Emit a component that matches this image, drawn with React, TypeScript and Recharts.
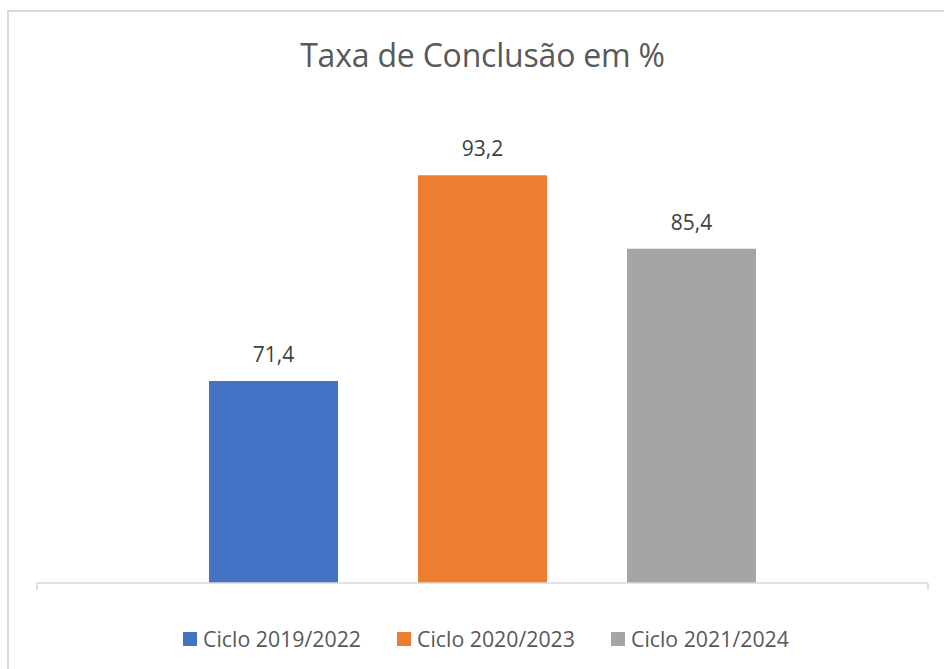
import { Bar, BarChart, LabelList, Legend, XAxis, YAxis } from "recharts";

const categories = ["Taxa de Conclusão"];
const seriesNames = ["Ciclo 2019/2022", "Ciclo 2020/2023", "Ciclo 2021/2024"];
const seriesValues = [71.4, 93.2, 85.4];
const seriesColors = ["#4472C4", "#ED7D31", "#A5A5A5"];
// the axis line runs from 0 to 1 with a small tick at each end
const edgeTicks = [0, 1];

const FONT = "'Open Sans', 'Noto Sans', sans-serif";

const chartData = categories.map((name) => {
  const row: Record<string, string | number> = { name, pos: 0.5 };
  seriesNames.forEach((s, i) => {
    row[s] = seriesValues[i];
  });
  return row;
});

function formatValue(value: unknown) {
  return String(value).replace(".", ",");
}

function LegendContent({ payload }: { payload?: any[] }) {
  return (
    <div style={{ display: "flex", justifyContent: "center", fontFamily: FONT }}>
      {(payload ?? []).map((entry, i) => (
        <div
          key={entry.value}
          style={{ display: "flex", alignItems: "center", marginLeft: i === 0 ? 0 : 36 }}
        >
          <span style={{ width: 14, height: 14, background: entry.color, marginRight: 6 }} />
          <span style={{ fontSize: 21.3, color: "#595959", lineHeight: "28px" }}>{entry.value}</span>
        </div>
      ))}
    </div>
  );
}

export default function App() {
  return (
    <div
      style={{
        position: "fixed",
        left: 0,
        top: 0,
        width: 944,
        height: 669,
        background: "#fff",
        overflow: "hidden",
      }}
    >
      <div
        style={{
          position: "absolute",
          left: 7,
          top: 10,
          width: 960,
          height: 700,
          borderLeft: "2px solid #D9D9D9",
          borderTop: "2px solid #D9D9D9",
        }}
      />
      <div
        style={{
          position: "absolute",
          left: 37,
          top: 33,
          width: 891,
          textAlign: "center",
          fontFamily: FONT,
          fontSize: 32,
          letterSpacing: -0.2,
          color: "#595959",
          lineHeight: "normal",
        }}
      >
        Taxa de Conclusão em %
      </div>
      <div style={{ position: "absolute", left: 0, top: 0 }}>
        <BarChart
          width={944}
          height={669}
          data={chartData}
          margin={{ top: 111, right: 16, bottom: 85, left: 37 }}
          barSize={129}
          barGap={80}
        >
          <XAxis dataKey="name" hide height={0} />
          <XAxis
            xAxisId="edge"
            type="number"
            dataKey="pos"
            domain={[0, 1]}
            ticks={edgeTicks}
            interval={0}
            tickFormatter={() => ""}
            tickSize={7}
            height={1}
            axisLine={{ stroke: "#D9D9D9", strokeWidth: 1.5 }}
            tickLine={{ stroke: "#D9D9D9", strokeWidth: 1.5 }}
            allowDataOverflow
          />
          <YAxis hide domain={[50, 100]} allowDataOverflow />
          <Legend
            layout="horizontal"
            verticalAlign="middle"
            align="center"
            wrapperStyle={{ top: 625, left: 14, width: 944 }}
            content={<LegendContent />}
          />
          {seriesNames.map((s, i) => (
            <Bar key={s} dataKey={s} fill={seriesColors[i]} isAnimationActive={false}>
              <LabelList
                dataKey={s}
                position="top"
                offset={19}
                formatter={formatValue}
                style={{ fontFamily: FONT, fontSize: 21, fill: "#404040" }}
              />
            </Bar>
          ))}
        </BarChart>
      </div>
    </div>
  );
}
